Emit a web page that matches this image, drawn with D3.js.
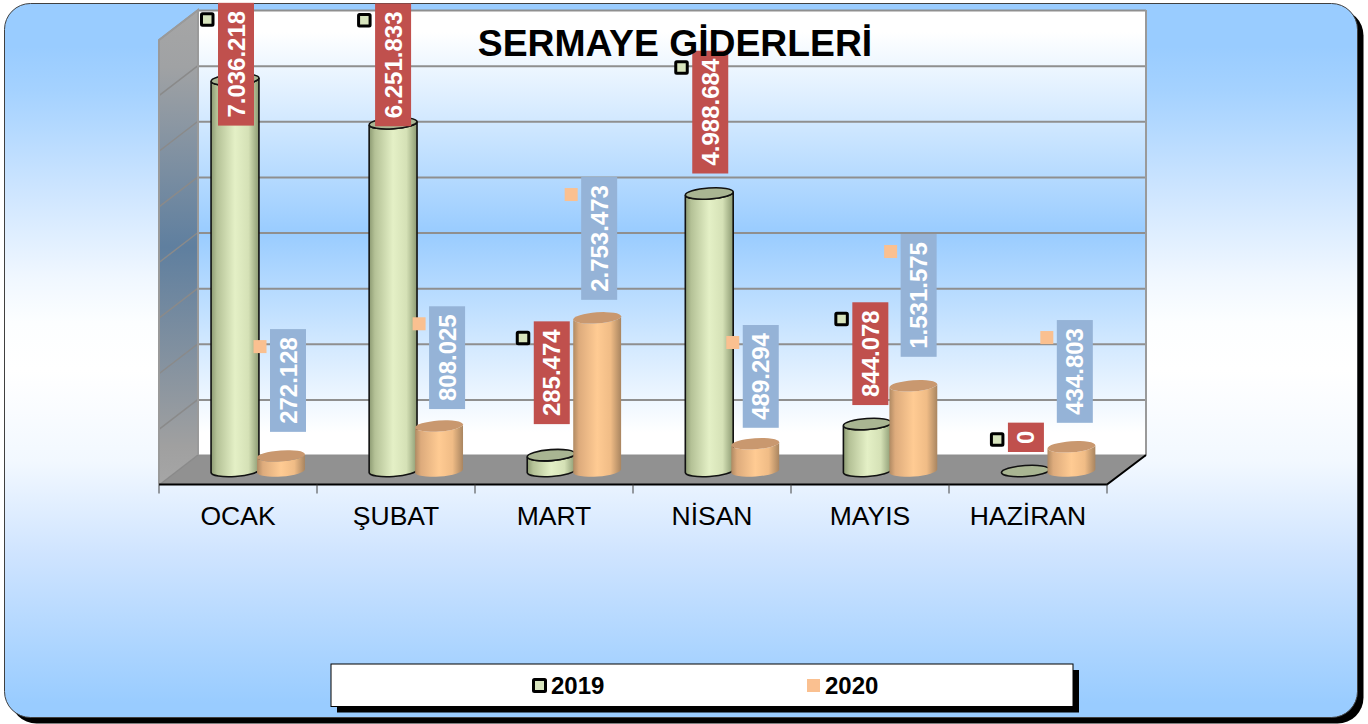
<!DOCTYPE html>
<html>
<head>
<meta charset="utf-8">
<script src="https://cdnjs.cloudflare.com/ajax/libs/d3/7.8.5/d3.min.js"></script>
<style>
html,body{margin:0;padding:0;background:#fff;}
svg{display:block;font-family:"Liberation Sans",Arial,sans-serif;}
</style>
</head>
<body>
<svg id="chart" width="1368" height="724"></svg>
<script>
// ---- data ----
const titleText = "SERMAYE GİDERLERİ";
const categories = ["OCAK", "ŞUBAT", "MART", "NİSAN", "MAYIS", "HAZİRAN"];
const seriesNames = ["2019", "2020"];
const values2019 = [7036218, 6251833, 285474, 4988684, 844078, 0];
const values2020 = [272128, 808025, 2753473, 489294, 1531575, 434803];
const axisMax = 8000000;

// ---- label placement (pixels relative to each bar's top) ----
const labelLift2019 = [-46, -3, 31, 20, 19, 19];
const labelLift2020 = [24, 17, 18, 16, 29, 24];
const labelShift2019 = [1, 0, 0.6, 1, 3, 0.5];
const labelShift2020 = [7, 8, 2, 5.5, 5.3, 3.4];

// ---- layout ----
const wall = {x0: 198, x1: 1146, y0: 10, y1: 455};
const floor = {x0: 159, x1: 1107, y: 484.5};
const baseY = 471;
const unit = (wall.y1 - wall.y0) / 8;
const rx = 24, ry = 5.5, tilt = 4 * Math.PI / 180;

const svg = d3.select("#chart");
const defs = svg.append("defs");

function linGrad(id, horizontal, stops) {
  const g = defs.append("linearGradient").attr("id", id)
    .attr("x1", "0%").attr("y1", "0%")
    .attr("x2", horizontal ? "100%" : "0%").attr("y2", horizontal ? "0%" : "100%");
  stops.forEach(s => g.append("stop").attr("offset", s[0]).attr("stop-color", s[1]));
}
linGrad("panelG", false, [["0", "#99CCFF"], ["0.06", "#99CCFF"], ["0.124", "#A5D2FF"], ["0.254", "#CBE4FF"], ["0.383", "#F0F7FF"], ["0.447", "#FCFEFF"], ["0.513", "#FFFFFF"], ["0.642", "#F2F8FF"], ["0.771", "#CFE4FF"], ["0.9", "#ADD5FF"], ["0.98", "#99CCFF"], ["1", "#99CCFF"]]);
linGrad("wallG", false, [["0", "#FFFFFF"], ["0.05", "#FFFFFF"], ["0.5", "#99CCFF"], ["0.95", "#FFFFFF"], ["1", "#FFFFFF"]]);
linGrad("sideG", false, [["0", "#A6A6A6"], ["0.12", "#A0A2A4"], ["0.5", "#5F7F9F"], ["0.92", "#A0A0A0"], ["1", "#A6A6A6"]]);
linGrad("bar2019", true, [["0", "#8C9A72"], ["0.12", "#B4C196"], ["0.5", "#E4F0C6"], ["0.78", "#D5E1B6"], ["1", "#8C9A72"]]);
linGrad("bar2020", true, [["0", "#B08A63"], ["0.12", "#DDAB7C"], ["0.5", "#FFCB93"], ["0.78", "#F0BC86"], ["1", "#A98560"]]);

// ---- outer panel ----
const panel = {x: 4.5, y: 3.5, w: 1353, h: 714};
svg.append("rect").attr("x", panel.x + 6).attr("y", panel.y + 6)
  .attr("width", panel.w).attr("height", panel.h).attr("rx", 26).attr("fill", "#000");
svg.append("rect").attr("x", panel.x).attr("y", panel.y)
  .attr("width", panel.w).attr("height", panel.h).attr("rx", 26)
  .attr("fill", "url(#panelG)").attr("stroke", "#404040").attr("stroke-width", 1);

// ---- scales ----
const x0 = d3.scaleBand().domain(categories).range([floor.x0, floor.x1]);
const xBars = d3.scaleBand().domain(categories).range([floor.x0 + 1, floor.x1 + 1.5]);
const x1 = d3.scaleBand().domain(seriesNames).range([52, 144]);
const y = d3.scaleLinear().domain([0, axisMax]).range([baseY, baseY - 8 * unit]);
const yWall = d3.scaleLinear().domain([0, axisMax]).range([wall.y1, wall.y0]);
const gridTicks = d3.range(0, axisMax + 1, 1000000);
const fmt = d3.formatLocale({decimal: ",", thousands: ".", grouping: [3], currency: ["", ""]}).format(",d");

// ---- walls & floor ----
svg.append("rect").attr("x", wall.x0).attr("y", wall.y0)
  .attr("width", wall.x1 - wall.x0).attr("height", wall.y1 - wall.y0)
  .attr("fill", "url(#wallG)");
svg.append("polygon")
  .attr("points", [[floor.x0, wall.y0 + 30], [wall.x0, wall.y0], [wall.x0, wall.y1], [floor.x0, floor.y]].join(" "))
  .attr("fill", "url(#sideG)");
svg.append("polygon")
  .attr("points", [[wall.x0, wall.y1], [wall.x1, wall.y1], [floor.x1, floor.y], [floor.x0, floor.y]].join(" "))
  .attr("fill", "#919191");

// gridlines on back wall (axis with long ticks)
const gridAxis = d3.axisLeft(yWall).tickValues(gridTicks).tickSize(-(wall.x1 - wall.x0)).tickFormat("");
const gridG = svg.append("g").attr("transform", `translate(${wall.x0},0)`).call(gridAxis);
gridG.select(".domain").remove();
gridG.selectAll("line").attr("stroke", "#8F8F8F").attr("stroke-width", 2);

// gridlines on side wall
svg.append("g").selectAll("line").data(gridTicks).join("line")
  .attr("x1", wall.x0).attr("x2", floor.x0)
  .attr("y1", d => yWall(d)).attr("y2", d => yWall(d) + 30)
  .attr("stroke", "#8A8A8A").attr("stroke-width", 1.5);
// wall edges
svg.append("path")
  .attr("d", `M${floor.x0},${floor.y}V${wall.y0 + 30}L${wall.x0},${wall.y0}V${wall.y1}M${wall.x1},${wall.y0}V${wall.y1}`)
  .attr("fill", "none").attr("stroke", "#9A9A9A").attr("stroke-width", 2);
svg.append("path")
  .attr("d", `M${floor.x0},${floor.y}H${floor.x1}L${wall.x1},${wall.y1}`)
  .attr("fill", "none").attr("stroke", "#000").attr("stroke-width", 2);

// ---- category axis ----
const axisG = svg.append("g").attr("transform", `translate(0,${floor.y})`)
  .call(d3.axisBottom(x0).tickSize(0).tickPadding(22));
axisG.select(".domain").remove();
axisG.selectAll("text").attr("font-size", 26.5).attr("font-family", '"Liberation Sans",Arial,sans-serif').attr("fill", "#000");
svg.append("g").selectAll("line").data(d3.range(categories.length + 1)).join("line")
  .attr("x1", i => floor.x0 + i * x0.bandwidth()).attr("x2", i => floor.x0 + i * x0.bandwidth())
  .attr("y1", floor.y).attr("y2", floor.y + 9)
  .attr("stroke", "#404040").attr("stroke-width", 1);

// ---- cylinders ----
const dx = rx * Math.cos(tilt), dy = rx * Math.sin(tilt);
const deg = -tilt * 180 / Math.PI;
function bodyPath(cx, top, base) {
  return `M${cx - dx},${top + dy}L${cx - dx},${base + dy}` +
    `A${rx},${ry} ${deg} 0 0 ${cx + dx},${base - dy}` +
    `L${cx + dx},${top - dy}A${rx},${ry} ${deg} 0 1 ${cx - dx},${top + dy}Z`;
}
const rows = [];
categories.forEach((c, i) => {
  rows.push({c, i, s: "2019", v: values2019[i], lift: labelLift2019[i], shift: labelShift2019[i]});
  rows.push({c, i, s: "2020", v: values2020[i], lift: labelLift2020[i], shift: labelShift2020[i]});
});
const cxOf = d => xBars(d.c) + x1(d.s) + x1.bandwidth() / 2;
const style = {
  "2019": {grad: "url(#bar2019)", top: "#A9B592", stroke: "#111", sw: 1.6, label: "#C0504D", key: "#D7E4BD"},
  "2020": {grad: "url(#bar2020)", top: "#C9986F", stroke: "none", sw: 0, label: "#95B3D7", key: "#FAC090"}
};
const bars = svg.append("g").selectAll("g").data(rows).join("g");
bars.filter(d => d.v > 0).append("path")
  .attr("d", d => bodyPath(cxOf(d), y(d.v), y(0)))
  .attr("fill", d => style[d.s].grad)
  .attr("stroke", d => style[d.s].stroke).attr("stroke-width", d => style[d.s].sw);
bars.append("ellipse")
  .attr("rx", rx).attr("ry", ry)
  .attr("transform", d => `translate(${cxOf(d)},${y(d.v)}) rotate(${deg})`)
  .attr("fill", d => style[d.s].top)
  .attr("stroke", d => style[d.s].stroke).attr("stroke-width", d => style[d.s].sw);

// ---- data labels ----
const labels = svg.append("g").selectAll("g").data(rows).join("g")
  .attr("transform", d => `translate(${cxOf(d) + d.shift},${y(d.v) - d.lift})`);
const boxRects = labels.append("rect").attr("fill", d => style[d.s].label);
const boxTexts = labels.append("text")
  .attr("transform", "rotate(-90)")
  .attr("x", 8).attr("y", 8.5)
  .attr("font-size", 24).attr("font-weight", "bold").attr("fill", "#fff")
  .text(d => fmt(d.v));
boxTexts.each(function(d) { d.len = this.getComputedTextLength() + 16; });
boxRects.attr("x", -18).attr("width", 36).attr("y", d => -d.len).attr("height", d => d.len);
labels.append("rect")
  .attr("x", -34.5)
  .attr("y", d => -d.len + 11)
  .attr("width", d => d.s === "2019" ? 11.5 : 13).attr("height", d => d.s === "2019" ? 11.5 : 13)
  .attr("rx", d => d.s === "2019" ? 1 : 0)
  .attr("fill", d => style[d.s].key)
  .attr("stroke", d => d.s === "2019" ? "#000" : "none").attr("stroke-width", 3);

// ---- title ----
svg.append("text").attr("x", 675).attr("y", 56).attr("text-anchor", "middle")
  .attr("font-size", 37.3).attr("font-weight", "bold").attr("fill", "#000").text(titleText);

// ---- legend ----
const lg = {x: 331, y: 664, w: 742, h: 42.5};
svg.append("rect").attr("x", lg.x + 6).attr("y", lg.y + 6).attr("width", lg.w).attr("height", lg.h).attr("fill", "#000");
svg.append("rect").attr("x", lg.x).attr("y", lg.y).attr("width", lg.w).attr("height", lg.h)
  .attr("fill", "#fff").attr("stroke", "#000").attr("stroke-width", 1);
const legendX = d3.scalePoint().domain(seriesNames).range([539.5, 813.5]);
const lgItems = svg.append("g").selectAll("g").data(seriesNames).join("g")
  .attr("transform", s => `translate(${legendX(s)},685.5)`);
lgItems.append("rect")
  .attr("x", s => s === "2019" ? -6 : -6.5).attr("y", s => s === "2019" ? -6 : -6.5)
  .attr("width", s => s === "2019" ? 12 : 13).attr("height", s => s === "2019" ? 12 : 13)
  .attr("rx", s => s === "2019" ? 1 : 0)
  .attr("fill", s => style[s].key)
  .attr("stroke", s => s === "2019" ? "#000" : "none").attr("stroke-width", 3);
lgItems.append("text").attr("x", 11.5).attr("y", 8.5)
  .attr("font-size", 24).attr("font-weight", "bold").attr("fill", "#000").text(s => s);
</script>
</body>
</html>
